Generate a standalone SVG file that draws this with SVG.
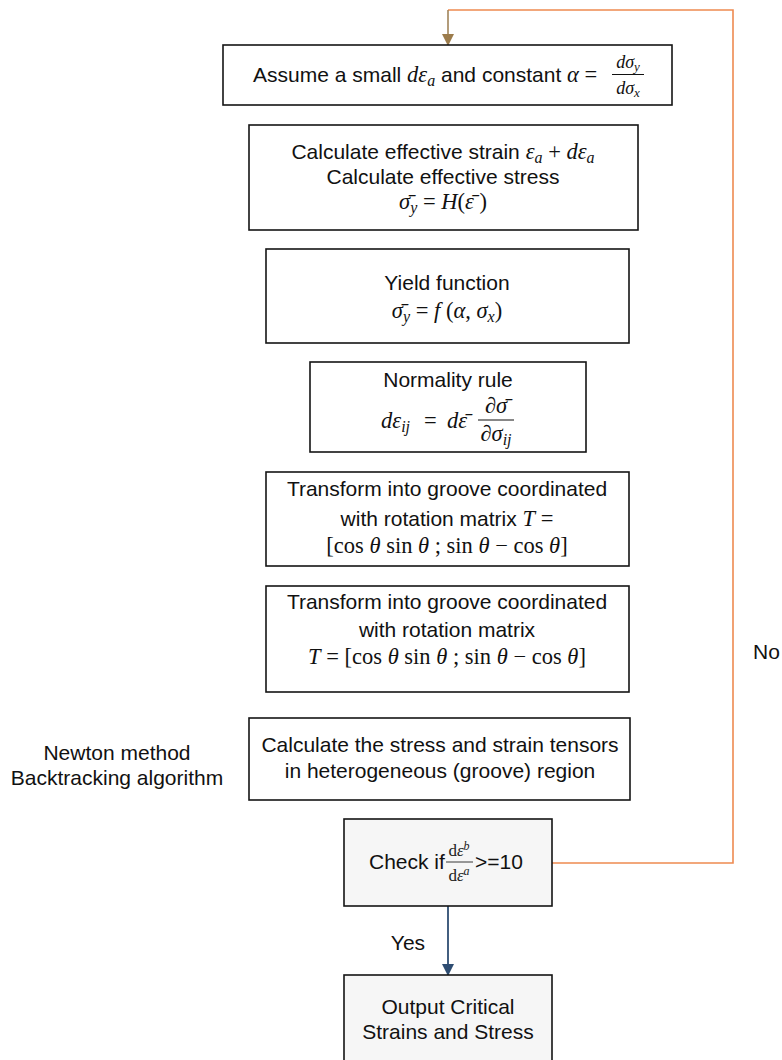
<svg xmlns="http://www.w3.org/2000/svg" width="782" height="1060" viewBox="0 0 782 1060">
<style>
.box{fill:#fff;stroke:#151515;stroke-width:1.6}
.gbox{fill:#f6f6f6;stroke:#151515;stroke-width:1.6}
.t{font-family:"Liberation Sans",Arial,sans-serif;font-size:21px;fill:#111}
.m{font-family:"Liberation Serif","Times New Roman",serif;font-style:italic;font-size:22.5px}
.u{font-family:"Liberation Serif","Times New Roman",serif;font-style:normal;font-size:22.5px}
.s{font-family:"Liberation Serif","Times New Roman",serif;font-style:italic;font-size:16px}
.f{font-family:"Liberation Serif","Times New Roman",serif;font-style:italic;font-size:18px;fill:#111}
.fs{font-size:13px}
.cf{font-family:"Liberation Serif","Times New Roman",serif;font-size:17px;fill:#222}
.cs{font-style:italic;font-size:12px}
.loop{fill:none;stroke:#ee8a50;stroke-width:1.6}
</style>
<defs>
<marker id="ah" markerWidth="12" markerHeight="12" refX="11" refY="6" orient="auto" markerUnits="userSpaceOnUse" viewBox="0 0 12 12">
<path d="M0,0 L12,6 L0,12 Z" fill="#9c7c4c"/>
</marker>
<marker id="ab" markerWidth="12" markerHeight="12" refX="11" refY="6" orient="auto" markerUnits="userSpaceOnUse" viewBox="0 0 12 12">
<path d="M0,0 L12,6 L0,12 Z" fill="#2e4d72"/>
</marker>
</defs>

<g id="connectors">
<polyline class="loop" points="552,863 733,863 733,10 448,10"/>
<line x1="448" y1="10" x2="448" y2="45" stroke="#a0845a" stroke-width="1.6" marker-end="url(#ah)"/>
<line x1="448" y1="906" x2="448" y2="975" stroke="#2e4d72" stroke-width="1.8" marker-end="url(#ab)"/>
<text class="t" x="408" y="950" text-anchor="middle" font-size="20">Yes</text>
<text class="t" x="753" y="659">No</text>
</g>

<g id="n1">
<rect class="box" x="223" y="45" width="449" height="60"/>
<text class="t" x="253" y="82">Assume a small <tspan class="m">dε</tspan><tspan class="s" dy="4">a</tspan><tspan dy="-4"> and constant </tspan><tspan class="m">α</tspan><tspan class="u"> = </tspan></text>
<text class="f" x="628" y="68" text-anchor="middle">dσ<tspan class="fs" dy="3">y</tspan></text>
<line x1="612" y1="74.5" x2="644" y2="74.5" stroke="#111" stroke-width="1"/>
<text class="f" x="628" y="94" text-anchor="middle">dσ<tspan class="fs" dy="3">x</tspan></text>
</g>

<g id="n2">
<rect class="box" x="249" y="125" width="389" height="105"/>
<text class="t" x="443" y="159" text-anchor="middle">Calculate effective strain  <tspan class="m">ε</tspan><tspan class="s" dy="4">a</tspan><tspan class="u" dy="-4"> + </tspan><tspan class="m">dε</tspan><tspan class="s" dy="4">a</tspan></text>
<text class="t" x="443" y="184" text-anchor="middle">Calculate effective stress</text>
<text class="t" x="443" y="209" text-anchor="middle"><tspan class="m">σ̄</tspan><tspan class="s" dy="4">y</tspan><tspan class="u" dy="-4"> = </tspan><tspan class="m">H</tspan><tspan class="u">(</tspan><tspan class="m">ε̄ </tspan><tspan class="u">)</tspan></text>
</g>

<g id="n3">
<rect class="box" x="266" y="249" width="363" height="94"/>
<text class="t" x="447" y="290" text-anchor="middle">Yield function</text>
<text class="t" x="447" y="318" text-anchor="middle"><tspan class="m">σ̄</tspan><tspan class="s" dy="4">y</tspan><tspan class="u" dy="-4"> = </tspan><tspan class="m">f </tspan><tspan class="u">(</tspan><tspan class="m">α</tspan><tspan class="u">, </tspan><tspan class="m">σ</tspan><tspan class="s" dy="4">x</tspan><tspan class="u" dy="-4">)</tspan></text>
</g>

<g id="n4">
<rect class="box" x="310" y="362" width="276" height="90"/>
<text class="t" x="448" y="387" text-anchor="middle">Normality rule</text>
<text class="t" x="381" y="428"><tspan class="m">dε</tspan><tspan class="s" dy="4">ij</tspan></text>
<text class="u" x="424" y="428" fill="#111">=</text>
<text class="m" x="447" y="428" fill="#111">dε̄</text>
<text class="t" x="496" y="413" text-anchor="middle"><tspan class="m">∂σ̄</tspan></text>
<line x1="478" y1="420" x2="514" y2="420" stroke="#111" stroke-width="1"/>
<text class="t" x="496" y="441" text-anchor="middle"><tspan class="m">∂σ</tspan><tspan class="s" dy="4">ij</tspan></text>
</g>

<g id="n5">
<rect class="box" x="266" y="472" width="363" height="94"/>
<text class="t" x="447" y="496" text-anchor="middle">Transform into groove coordinated</text>
<text class="t" x="447" y="526" text-anchor="middle">with rotation matrix <tspan class="m">T</tspan><tspan class="u"> =</tspan></text>
<text class="u" x="447" y="553" text-anchor="middle" fill="#111">[cos <tspan class="m">θ</tspan> sin <tspan class="m">θ</tspan> ; sin <tspan class="m">θ</tspan>  − cos <tspan class="m">θ</tspan>]</text>
</g>

<g id="n6">
<rect class="box" x="266" y="586" width="363" height="106"/>
<text class="t" x="447" y="609" text-anchor="middle">Transform into groove coordinated</text>
<text class="t" x="447" y="637" text-anchor="middle">with rotation matrix</text>
<text class="u" x="447" y="664" text-anchor="middle" fill="#111"><tspan class="m">T</tspan> = [cos <tspan class="m">θ</tspan> sin <tspan class="m">θ</tspan> ; sin <tspan class="m">θ</tspan>  − cos <tspan class="m">θ</tspan>]</text>
</g>

<g id="n7">
<rect class="box" x="249" y="718" width="381" height="82"/>
<text class="t" x="440" y="752" text-anchor="middle">Calculate the stress and strain tensors</text>
<text class="t" x="440" y="778" text-anchor="middle">in heterogeneous (groove) region</text>
</g>

<g id="note">
<text class="t" x="117" y="760" text-anchor="middle">Newton method</text>
<text class="t" x="117" y="785" text-anchor="middle">Backtracking algorithm</text>
</g>

<g id="n8">
<rect class="gbox" x="344" y="819" width="208" height="87"/>
<text class="t" x="369" y="869" font-size="20">Check if</text>
<text class="cf" x="459" y="856" text-anchor="middle">d<tspan font-style="italic">ε</tspan><tspan class="cs" dy="-6">b</tspan></text>
<line x1="446" y1="862" x2="473" y2="862" stroke="#222" stroke-width="0.9"/>
<text class="cf" x="459" y="881" text-anchor="middle">d<tspan font-style="italic">ε</tspan><tspan class="cs" dy="-6">a</tspan></text>
<text class="t" x="475" y="869" font-size="20">&gt;=10</text>
</g>

<g id="n9">
<rect class="gbox" x="344" y="975" width="208" height="90"/>
<text class="t" x="448" y="1014" text-anchor="middle">Output Critical</text>
<text class="t" x="448" y="1039" text-anchor="middle">Strains and Stress</text>
</g>
</svg>
